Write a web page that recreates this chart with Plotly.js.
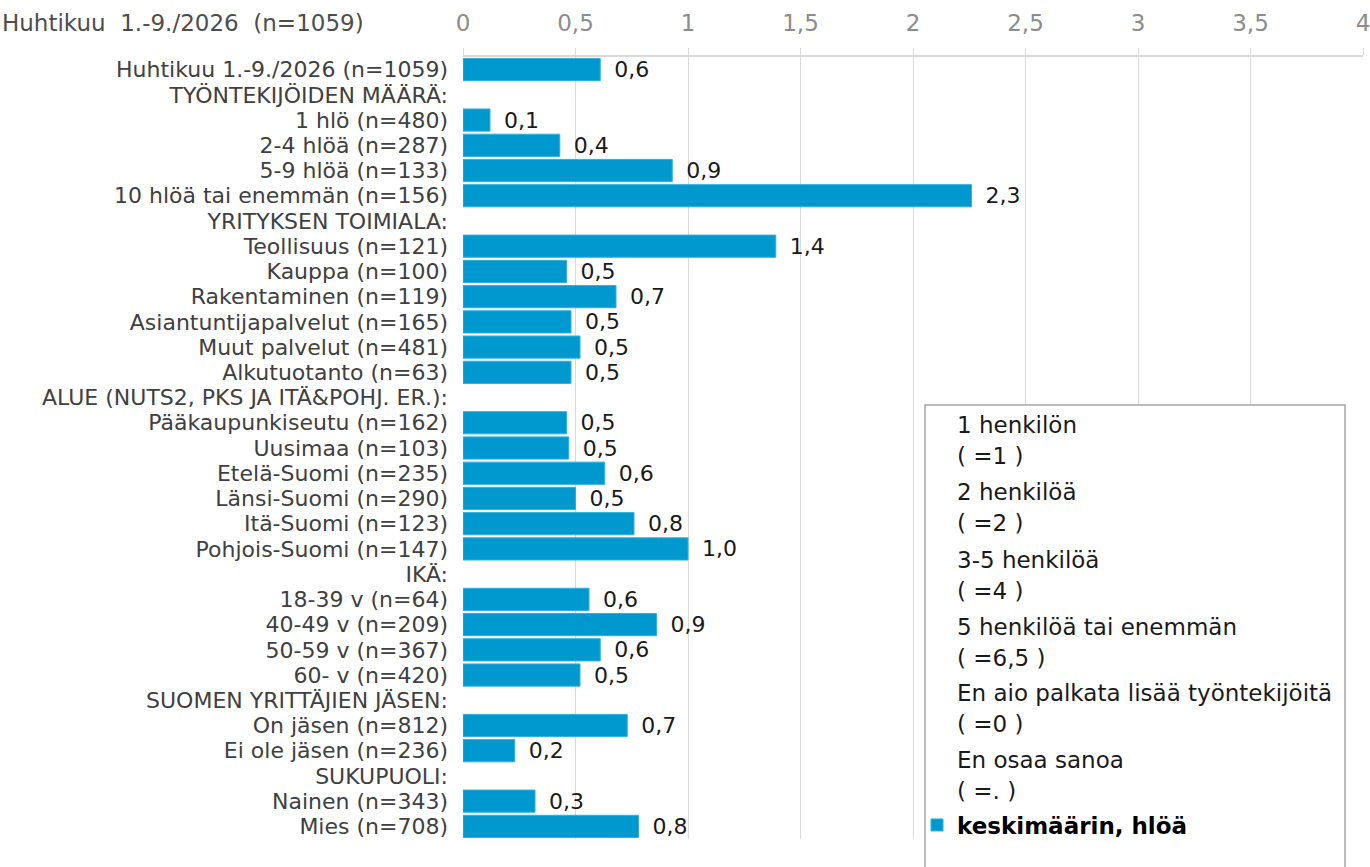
<!DOCTYPE html>
<html>
<head>
<meta charset="utf-8">
<script src="https://cdn.plot.ly/plotly-3.0.1.min.js"></script>
<style>html,body{margin:0;padding:0;background:#fff;}#chart{width:1370px;height:867px;}</style>
</head>
<body>
<div id="chart"></div>
<script>
const categories = [
  "Huhtikuu 1.-9./2026 (n=1059)",
  "TYÖNTEKIJÖIDEN MÄÄRÄ:",
  "1 hlö (n=480)",
  "2-4 hlöä (n=287)",
  "5-9 hlöä (n=133)",
  "10 hlöä tai enemmän (n=156)",
  "YRITYKSEN TOIMIALA:",
  "Teollisuus (n=121)",
  "Kauppa (n=100)",
  "Rakentaminen (n=119)",
  "Asiantuntijapalvelut (n=165)",
  "Muut palvelut (n=481)",
  "Alkutuotanto (n=63)",
  "ALUE (NUTS2, PKS JA ITÄ&POHJ. ER.):",
  "Pääkaupunkiseutu (n=162)",
  "Uusimaa (n=103)",
  "Etelä-Suomi (n=235)",
  "Länsi-Suomi (n=290)",
  "Itä-Suomi (n=123)",
  "Pohjois-Suomi (n=147)",
  "IKÄ:",
  "18-39 v (n=64)",
  "40-49 v (n=209)",
  "50-59 v (n=367)",
  "60- v (n=420)",
  "SUOMEN YRITTÄJIEN JÄSEN:",
  "On jäsen (n=812)",
  "Ei ole jäsen (n=236)",
  "SUKUPUOLI:",
  "Nainen (n=343)",
  "Mies (n=708)"
];
const values = [
  0.61, null, 0.12, 0.43, 0.93, 2.26, null,
  1.39, 0.46, 0.68, 0.48, 0.52, 0.48, null,
  0.46, 0.47, 0.63, 0.50, 0.76, 1.00, null,
  0.56, 0.86, 0.61, 0.52, null,
  0.73, 0.23, null,
  0.32, 0.78
];
const seriesName = "keskimäärin, hlöä";
const chartTitle = "Huhtikuu  1.-9./2026  (n=1059)";
const xTicks = [0, 0.5, 1, 1.5, 2, 2.5, 3, 3.5, 4];
const legendLines = [
  ["1 henkilön", "( =1 )"],
  ["2 henkilöä", "( =2 )"],
  ["3-5 henkilöä", "( =4 )"],
  ["5 henkilöä tai enemmän", "( =6,5 )"],
  ["En aio palkata lisää työntekijöitä", "( =0 )"],
  ["En osaa sanoa", "( =. )"]
];

const FONT = "'DejaVu Sans', Verdana, sans-serif";
const W = 1370, H = 867;
const mL = 463, mR = 7, mT = 57, mB = 28;
const pw = W - mL - mR, ph = H - mT - mB;
const px = x => (x - mL) / pw;
const py = y => (H - mB - y) / ph;

const labels = values.map(v => v == null ? "" : "\u2002" + (Math.round(v * 10) / 10).toFixed(1).replace(".", ","));

const trace = {
  type: "bar",
  orientation: "h",
  y: categories,
  x: values,
  name: "<b>" + seriesName + "</b>",
  marker: {color: "#0099CF", line: {color: "#2fb0dd", width: 1}},
  text: labels,
  textposition: "outside",
  constraintext: "none",
  cliponaxis: false,
  textfont: {family: FONT, size: 22, color: "#1a1a1a"},
  hoverinfo: "x+y",
  showlegend: true
};

const annotations = [];
const legTop = [425, 492, 560, 627, 693, 760];
legendLines.forEach((pair, i) => {
  pair.forEach((t, j) => {
    annotations.push({
      xref: "paper", yref: "paper",
      x: px(955), y: py(legTop[i] + j * 31),
      xanchor: "left", yanchor: "middle",
      text: t, showarrow: false,
      font: {family: FONT, size: 23, color: "#1a1a1a"}
    });
  });
});

const layout = {
  width: W, height: H,
  margin: {l: mL, r: mR, t: mT, b: mB, pad: 0},
  paper_bgcolor: "#fff", plot_bgcolor: "#fff",
  separators: ", ",
  bargap: 0.12,
  title: {
    text: chartTitle,
    xref: "container", yref: "container",
    x: 2 / W, xanchor: "left",
    y: 1 - 23 / H, yanchor: "middle",
    font: {family: FONT, size: 23, color: "#4d4d4d"}
  },
  xaxis: {
    side: "top",
    range: [0, 4],
    tickmode: "array",
    tickvals: xTicks,
    ticks: "outside", ticklen: 7, tickcolor: "#d9d9d9",
    ticklabelstandoff: 8,
    ticklabeloverflow: "allow",
    showgrid: true, gridcolor: "#d9d9d9", gridwidth: 1,
    showline: true, linecolor: "#d9d9d9", linewidth: 2,
    zeroline: false,
    tickfont: {family: FONT, size: 23, color: "#8c8c8c"},
    fixedrange: true
  },
  yaxis: {
    type: "category",
    autorange: "reversed",
    automargin: false,
    tickmode: "array",
    tickvals: categories,
    ticktext: categories,
    ticks: "", ticklabelstandoff: 14,
    ticklabeloverflow: "allow",
    showgrid: false, showline: false, zeroline: false,
    tickfont: {family: FONT, size: 22, color: "#404040"},
    fixedrange: true
  },
  showlegend: true,
  legend: {
    x: px(917), y: py(825), xanchor: "left", yanchor: "middle",
    bgcolor: "rgba(0,0,0,0)", borderwidth: 0,
    font: {family: FONT, size: 23, color: "#000"},
    itemwidth: 30
  },
  shapes: [{
    type: "rect", xref: "paper", yref: "paper",
    x0: px(925), x1: px(1345), y0: py(880), y1: py(405),
    fillcolor: "#fff", line: {color: "#a6a6a6", width: 1.5},
    layer: "above"
  }],
  annotations: annotations
};

Plotly.newPlot("chart", [trace], layout, {displayModeBar: false, staticPlot: true});
</script>
</body>
</html>
